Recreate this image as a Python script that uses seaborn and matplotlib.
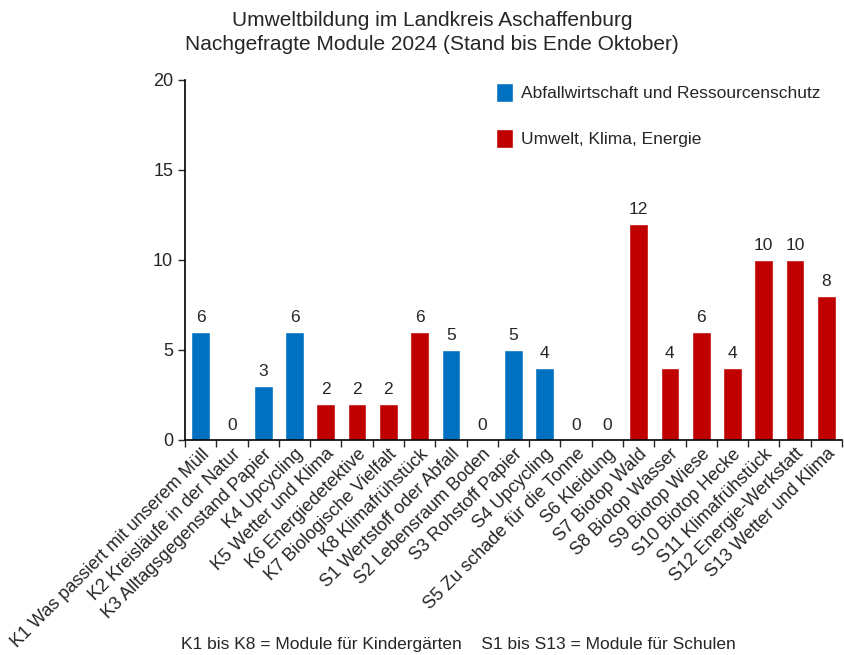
import matplotlib
matplotlib.use("Agg")
import matplotlib.pyplot as plt
import seaborn as sns
import pandas as pd
import numpy as np

# Daten
module = ["K1 Was passiert mit unserem Müll", "K2 Kreisläufe in der Natur",
          "K3 Alltagsgegenstand Papier", "K4 Upcycling", "K5 Wetter und Klima",
          "K6 Energiedetektive", "K7 Biologische Vielfalt", "K8 Klimafrühstück",
          "S1 Wertstoff oder Abfall", "S2 Lebensraum Boden", "S3 Rohstoff Papier",
          "S4 Upcycling", "S5 Zu schade für die Tonne", "S6 Kleidung",
          "S7 Biotop Wald", "S8 Biotop Wasser", "S9 Biotop Wiese", "S10 Biotop Hecke",
          "S11 Klimafrühstück", "S12 Energie-Werkstatt", "S13 Wetter und Klima"]
anzahl = [6, 0, 3, 6, 2, 2, 2, 6, 5, 0, 5, 4, 0, 0, 12, 4, 6, 4, 10, 10, 8]
bereich = ["A", "U", "A", "A", "U", "U", "U", "U", "A", "U", "A", "A", "A", "A",
           "U", "U", "U", "U", "U", "U", "U"]
bereich_namen = {"A": "Abfallwirtschaft und Ressourcenschutz",
                 "U": "Umwelt, Klima, Energie"}
farben = {"Abfallwirtschaft und Ressourcenschutz": "#0070C0",
          "Umwelt, Klima, Energie": "#C00000"}

df = pd.DataFrame({"modul": module, "anzahl": anzahl,
                   "bereich": [bereich_namen[b] for b in bereich]})

sns.set_style("white")
plt.rcParams["font.family"] = ["Liberation Sans", "DejaVu Sans"]

fig = plt.figure(figsize=(8.44, 6.55), dpi=100)
ax = fig.add_axes([185 / 844, 1 - 440 / 655, 657 / 844, 360 / 655])

sns.barplot(data=df, x="modul", y="anzahl", hue="bereich",
            hue_order=list(farben.keys()), palette=farben, dodge=False,
            width=0.6, order=module, ax=ax, saturation=1)

for c in ax.containers:
    ax.bar_label(c, fmt="%d", padding=5, fontsize=12.5)

ax.set_ylim(0, 20)
ax.set_yticks([0, 5, 10, 15, 20])
ax.set_xlim(-0.5, len(module) - 0.5)
ax.set_xlabel("")
ax.set_ylabel("")
ax.tick_params(axis="y", labelsize=13, length=5, width=1, direction="out", left=True)
ax.tick_params(axis="x", which="major", length=0, labelsize=13, pad=4)
ax.set_xticks(np.arange(-0.5, len(module), 1), minor=True)
ax.tick_params(axis="x", which="minor", length=5, width=1, direction="out", bottom=True)
plt.setp(ax.get_xticklabels(), rotation=45, ha="right", rotation_mode="anchor")

for s in ["top", "right"]:
    ax.spines[s].set_visible(False)
for s in ["left", "bottom"]:
    ax.spines[s].set_color("black")
    ax.spines[s].set_linewidth(1.2)

ax.legend(loc="upper left", bbox_to_anchor=(0.45, 1.035), frameon=False,
          fontsize=12.5, handlelength=0.95, handleheight=1.3, labelspacing=1.55,
          handletextpad=0.5)

fig.text(432 / 844, 1 - 20 / 655, "Umweltbildung im Landkreis Aschaffenburg",
         ha="center", va="center", fontsize=15)
fig.text(432 / 844, 1 - 45 / 655, "Nachgefragte Module 2024 (Stand bis Ende Oktober)",
         ha="center", va="center", fontsize=15)
fig.text(458 / 844, 1 - 644 / 655,
         "K1 bis K8 = Module für Kindergärten    S1 bis S13 = Module für Schulen",
         ha="center", va="center", fontsize=12.5)

fig.savefig("out.png", dpi=100)
